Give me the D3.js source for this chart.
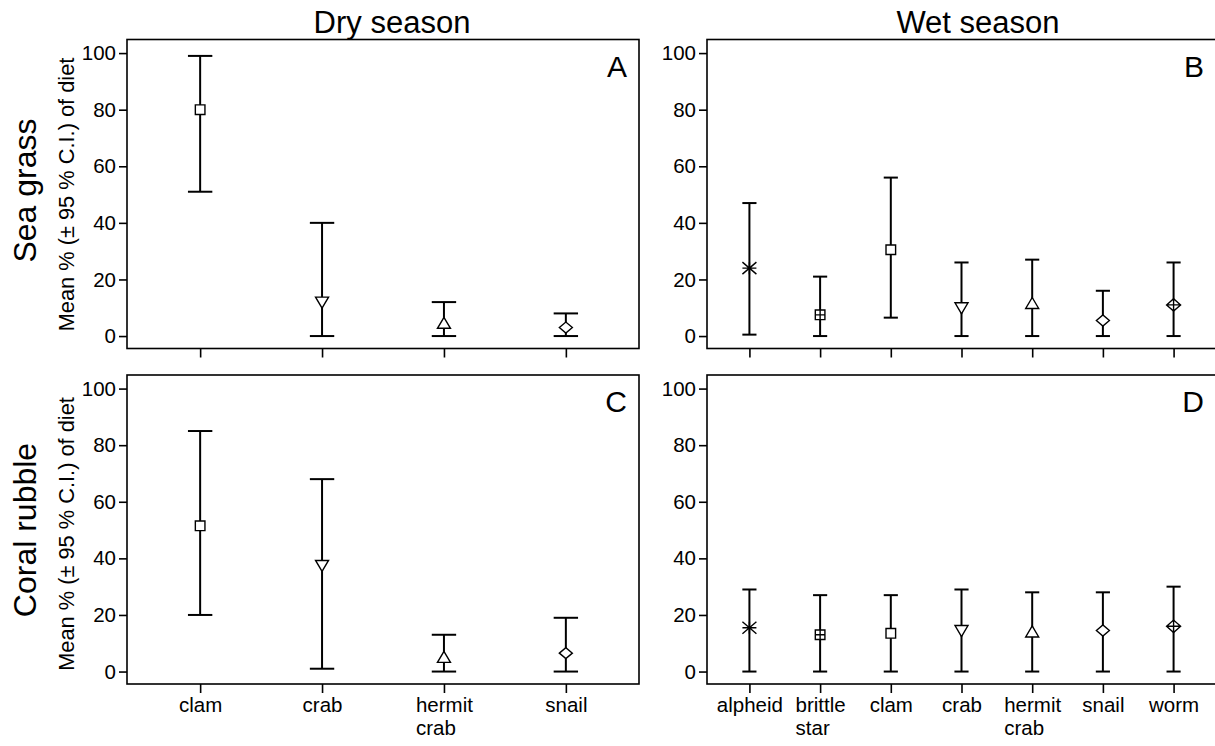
<!DOCTYPE html>
<html>
<head>
<meta charset="utf-8">
<script src="https://cdn.jsdelivr.net/npm/d3@7/dist/d3.min.js"></script>
<style>
  body { margin: 0; background: #fff; }
  svg { display: block; }
  text { font-family: "Liberation Sans", Arial, sans-serif; fill: #000; }
</style>
</head>
<body>
<svg id="chart" width="1215" height="746"></svg>
<script>
// prey categories
var dryCategories = ["clam", "crab", "hermit crab", "snail"];
var wetCategories = ["alpheid", "brittle star", "clam", "crab", "hermit crab", "snail", "worm"];
var yTicks = [0, 20, 40, 60, 80, 100];

// A: dry season, sea grass
var dryGrassMean = [80, 12, 4.5, 3];
var dryGrassLow  = [51, 0, 0, 0];
var dryGrassHigh = [99, 40, 12, 8];

// B: wet season, sea grass
var wetGrassMean = [24, 7.5, 30.5, 10, 11.5, 5.5, 11];
var wetGrassLow  = [0.5, 0, 6.5, 0, 0, 0, 0];
var wetGrassHigh = [47, 21, 56, 26, 27, 16, 26];

// C: dry season, coral rubble
var dryRubbleMean = [51.5, 37.5, 5, 6.5];
var dryRubbleLow  = [20, 1, 0, 0];
var dryRubbleHigh = [85, 68, 13, 19];

// D: wet season, coral rubble
var wetRubbleMean = [15.5, 13, 13.5, 14.5, 14, 14.5, 16];
var wetRubbleLow  = [0, 0, 0, 0, 0, 0, 0];
var wetRubbleHigh = [29, 27, 27, 29, 28, 28, 30];

var markerOf = {
  "alpheid": "asterisk",
  "brittle star": "squarePlus",
  "clam": "square",
  "crab": "triangleDown",
  "hermit crab": "triangleUp",
  "snail": "diamond",
  "worm": "diamondPlus"
};

var svg = d3.select("#chart");

var panels = [
  { letter: "A", cats: dryCategories, mean: dryGrassMean, low: dryGrassLow, high: dryGrassHigh,
    left: 127, right: 639, top: 39.5, bottom: 348.5, labels: false },
  { letter: "B", cats: wetCategories, mean: wetGrassMean, low: wetGrassLow, high: wetGrassHigh,
    left: 707, right: 1216, top: 39.5, bottom: 348.5, labels: false },
  { letter: "C", cats: dryCategories, mean: dryRubbleMean, low: dryRubbleLow, high: dryRubbleHigh,
    left: 127, right: 639, top: 375, bottom: 684, labels: true },
  { letter: "D", cats: wetCategories, mean: wetRubbleMean, low: wetRubbleLow, high: wetRubbleHigh,
    left: 707, right: 1216, top: 375, bottom: 684, labels: true }
];

function markerPath(type) {
  var p = d3.path();
  if (type === "square" || type === "squarePlus") {
    var s = 4.8;
    p.rect(-s, -s, 2 * s, 2 * s);
    if (type === "squarePlus") {
      p.moveTo(-s, 0); p.lineTo(s, 0);
      p.moveTo(0, -s); p.lineTo(0, s);
    }
  } else if (type === "triangleDown") {
    p.moveTo(-6.5, -5); p.lineTo(6.5, -5); p.lineTo(0, 6); p.closePath();
  } else if (type === "triangleUp") {
    p.moveTo(-6.5, 5); p.lineTo(6.5, 5); p.lineTo(0, -6); p.closePath();
  } else if (type === "diamond" || type === "diamondPlus") {
    var w = type === "diamond" ? 6.5 : 7, h = type === "diamond" ? 5.5 : 6.2;
    p.moveTo(-w, 0); p.lineTo(0, -h); p.lineTo(w, 0); p.lineTo(0, h); p.closePath();
    if (type === "diamondPlus") {
      p.moveTo(-w, 0); p.lineTo(w, 0);
      p.moveTo(0, -h); p.lineTo(0, h);
    }
  } else if (type === "asterisk") {
    p.moveTo(-7, -6); p.lineTo(7, 6);
    p.moveTo(-7, 6); p.lineTo(7, -6);
    p.moveTo(-7, 0); p.lineTo(7, 0);
    p.moveTo(0, -6); p.lineTo(0, 6);
  }
  return p.toString();
}

panels.forEach(function(pn) {
  var n = pn.cats.length;
  var x = d3.scaleLinear().domain([0.4, n + 0.6]).range([pn.left, pn.right]);
  var y = d3.scaleLinear().domain([-4.4, 104.8]).range([pn.bottom, pn.top]);
  var step = x(2) - x(1);
  var cap = step * 0.1;

  var g = svg.append("g");

  // y axis
  var yAxis = g.append("g")
    .attr("transform", "translate(" + pn.left + ",0)")
    .call(d3.axisLeft(y).tickValues(yTicks).tickSize(8).tickPadding(3));
  yAxis.select(".domain").remove();
  yAxis.selectAll("line").attr("stroke", "#000").attr("stroke-width", 1.6);
  yAxis.selectAll("text").attr("font-size", "20.5px").attr("font-family", null);

  // x axis
  var xAxis = g.append("g")
    .attr("transform", "translate(0," + pn.bottom + ")")
    .call(d3.axisBottom(x).tickValues(d3.range(1, n + 1)).tickSize(9).tickPadding(4)
      .tickFormat(function(i) { return pn.labels ? pn.cats[i - 1] : ""; }));
  xAxis.select(".domain").remove();
  xAxis.selectAll("line").attr("stroke", "#000").attr("stroke-width", 1.6);
  xAxis.selectAll("text").attr("font-size", "20.5px").attr("font-family", null)
    .each(function(i) {
      if (!pn.labels) return;
      var t = d3.select(this);
      var words = pn.cats[i - 1].split(" ");
      t.text(null);
      var first = t.append("tspan").attr("x", 0).text(words[0]);
      var w = first.node().getComputedTextLength();
      t.attr("text-anchor", "start");
      first.attr("x", -w / 2);
      if (words.length > 1) {
        t.append("tspan").attr("x", -w / 2).attr("dy", "1.12em").text(words[1]);
      }
    });

  // frame
  g.append("rect")
    .attr("x", pn.left).attr("y", pn.top)
    .attr("width", pn.right - pn.left).attr("height", pn.bottom - pn.top)
    .attr("fill", "none").attr("stroke", "#000").attr("stroke-width", 1.6);

  var idx = d3.range(n);

  // error bars
  var bars = g.selectAll(".bar").data(idx).enter().append("g").attr("class", "bar");
  bars.append("line")
    .attr("x1", function(i) { return x(i + 1); }).attr("x2", function(i) { return x(i + 1); })
    .attr("y1", function(i) { return y(pn.low[i]); }).attr("y2", function(i) { return y(pn.high[i]); })
    .attr("stroke", "#000").attr("stroke-width", 2);
  bars.append("line")
    .attr("x1", function(i) { return x(i + 1) - cap; }).attr("x2", function(i) { return x(i + 1) + cap; })
    .attr("y1", function(i) { return y(pn.high[i]); }).attr("y2", function(i) { return y(pn.high[i]); })
    .attr("stroke", "#000").attr("stroke-width", 2);
  bars.append("line")
    .attr("x1", function(i) { return x(i + 1) - cap; }).attr("x2", function(i) { return x(i + 1) + cap; })
    .attr("y1", function(i) { return y(pn.low[i]); }).attr("y2", function(i) { return y(pn.low[i]); })
    .attr("stroke", "#000").attr("stroke-width", 2);

  // mean markers
  g.selectAll(".marker").data(idx).enter().append("path")
    .attr("class", "marker")
    .attr("transform", function(i) { return "translate(" + x(i + 1) + "," + y(pn.mean[i]) + ")"; })
    .attr("d", function(i) { return markerPath(markerOf[pn.cats[i]]); })
    .attr("fill", "#fff").attr("stroke", "#000").attr("stroke-width", 1.4);

  // panel letter
  g.append("text")
    .attr("x", pn.right - 12).attr("y", pn.top + 37)
    .attr("text-anchor", "end").attr("font-size", "30px")
    .text(pn.letter);
});

// column titles
svg.append("text").attr("x", 392).attr("y", 33)
  .attr("text-anchor", "middle").attr("font-size", "31px").text("Dry season");
svg.append("text").attr("x", 978).attr("y", 33)
  .attr("text-anchor", "middle").attr("font-size", "31px").text("Wet season");

// row titles and y labels
[["Sea grass", 190.5], ["Coral rubble", 530]].forEach(function(r) {
  svg.append("text")
    .attr("transform", "translate(36," + r[1] + ") rotate(-90)")
    .attr("text-anchor", "middle").attr("font-size", "32px").text(r[0]);
  svg.append("text")
    .attr("transform", "translate(74," + (r[1] + 4) + ") rotate(-90)")
    .attr("text-anchor", "middle").attr("font-size", "21.8px").text("Mean % (\u00b1 95 % C.I.) of diet");
});
</script>
</body>
</html>
